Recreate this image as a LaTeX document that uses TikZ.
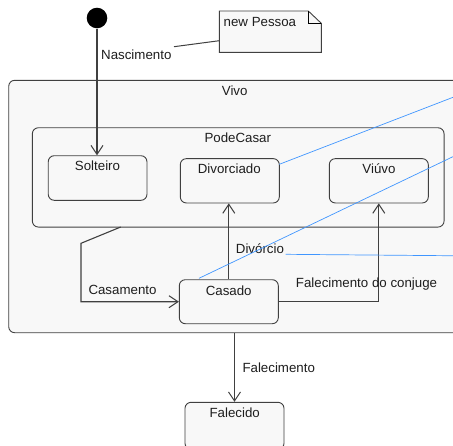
\documentclass[tikz,border=0pt]{standalone}
\usepackage{fontspec}
\setmainfont{Liberation Sans}
\usetikzlibrary{arrows.meta}
\definecolor{stroke}{RGB}{64,64,64}
\definecolor{boxfill}{RGB}{248,248,248}
\definecolor{anchorblue}{RGB}{64,150,255}
\definecolor{txt}{RGB}{30,30,30}
\begin{document}
\begin{tikzpicture}[x=1pt,y=-1pt,
  font=\fontsize{13.3}{15}\selectfont,
  statebox/.style={draw=stroke, fill=boxfill, rounded corners=6pt, line width=0.9pt, inner sep=0pt},
  lbl/.style={anchor=base, inner sep=0pt, text=txt},
  trans/.style={draw=stroke, line width=1.1pt, -{Straight Barb[length=9pt,width=12pt,line width=1pt]}},
  plainline/.style={draw=stroke, line width=1pt},
  bluelink/.style={draw=anchorblue, line width=0.7pt}]
\useasboundingbox (0,0) rectangle (453,445);
\fill[white] (0,0) rectangle (453,445);
\clip (0,0) rectangle (453,445);

% composite states
\node[statebox, minimum width=461.3pt, minimum height=252.4pt] (vivo) at (239.35,206.5) {};
\node[lbl] (vivo-t) at (234.7,95) {Vivo};
\node[statebox, minimum width=411.7pt, minimum height=99.3pt] (podecasar) at (238.2,177.4) {};
\node[lbl] (podecasar-t) at (237.8,142.5) {PodeCasar};

% simple states
\node[statebox, minimum width=98.7pt, minimum height=44.6pt] (solteiro) at (97.6,178) {};
\node[lbl] (solteiro-t) at (97.5,170) {Solteiro};
\node[statebox, minimum width=99pt, minimum height=44.3pt] (divorciado) at (229.8,180.8) {};
\node[lbl] (divorciado-t) at (229.3,173) {Divorciado};
\node[statebox, minimum width=99pt, minimum height=44.3pt] (viuvo) at (378.8,180.8) {};
\node[lbl] (viuvo-t) at (379,173) {Viúvo};
\node[statebox, minimum width=99pt, minimum height=44pt] (casado) at (228.8,301.7) {};
\node[lbl] (casado-t) at (228.7,295) {Casado};
\node[statebox, minimum width=99pt, minimum height=47pt] (falecido) at (234.5,425.8) {};
\node[lbl] (falecido-t) at (234.7,417) {Falecido};

% initial state
\node[circle, fill=black, minimum size=20.6pt, inner sep=0pt] (init) at (97,18) {};

% note
\path[draw=stroke, fill=boxfill, line width=0.9pt] (219.3,11) -- (308.3,11) -- (321.3,23.3) -- (321.3,52.3) -- (219.3,52.3) -- cycle;
\draw[stroke, line width=0.9pt] (308.3,11) -- (308.3,23.3) -- (321.3,23.3);
\node[lbl, anchor=base west] (note) at (223.5,26) {new Pessoa};
\coordinate (noteanchor) at (219.3,40.7);
\coordinate (nasclink) at (174,46.7);
\draw[plainline] (noteanchor) -- (nasclink);

% transitions
\draw[trans] (init.south) -- (init.south |- solteiro.north);
\node[lbl, anchor=base west] (nasc-t) at (101,59) {Nascimento};

\coordinate (casa1) at (120.7,227);
\coordinate (casa2) at (81,243.3);
\draw[trans] (casa1) -- (casa2) |- (casado.west);
\node[lbl, anchor=base west] (casa-t) at (88.3,294) {Casamento};

\draw[trans] (casado.north) -- (casado.north |- divorciado.south);
\node[lbl, anchor=base west] (div-t) at (235.7,253) {Divórcio};

\draw[trans] (casado.east) -| (viuvo.south);
\node[lbl, anchor=base west] (fc-t) at (295.7,287) {Falecimento do conjuge};

\draw[trans] (falecido.north |- vivo.south) -- (falecido.north);
\node[lbl, anchor=base west] (fal-t) at (242.3,372.5) {Falecimento};

% note anchor links (blue)
\coordinate (blue1) at (460,94.6);
\coordinate (blue2) at (460,153.3);
\coordinate (blue3) at (460,255.8);
\coordinate (divstart) at (285.7,254.3);
\coordinate (divoanchor) at (279.3,164.3);
\coordinate (casanchor) at (199,278.3);
\draw[bluelink] (divoanchor) -- (blue1);
\draw[bluelink] (casanchor) -- (blue2);
\draw[bluelink] (divstart) -- (blue3);
\end{tikzpicture}
\end{document}
